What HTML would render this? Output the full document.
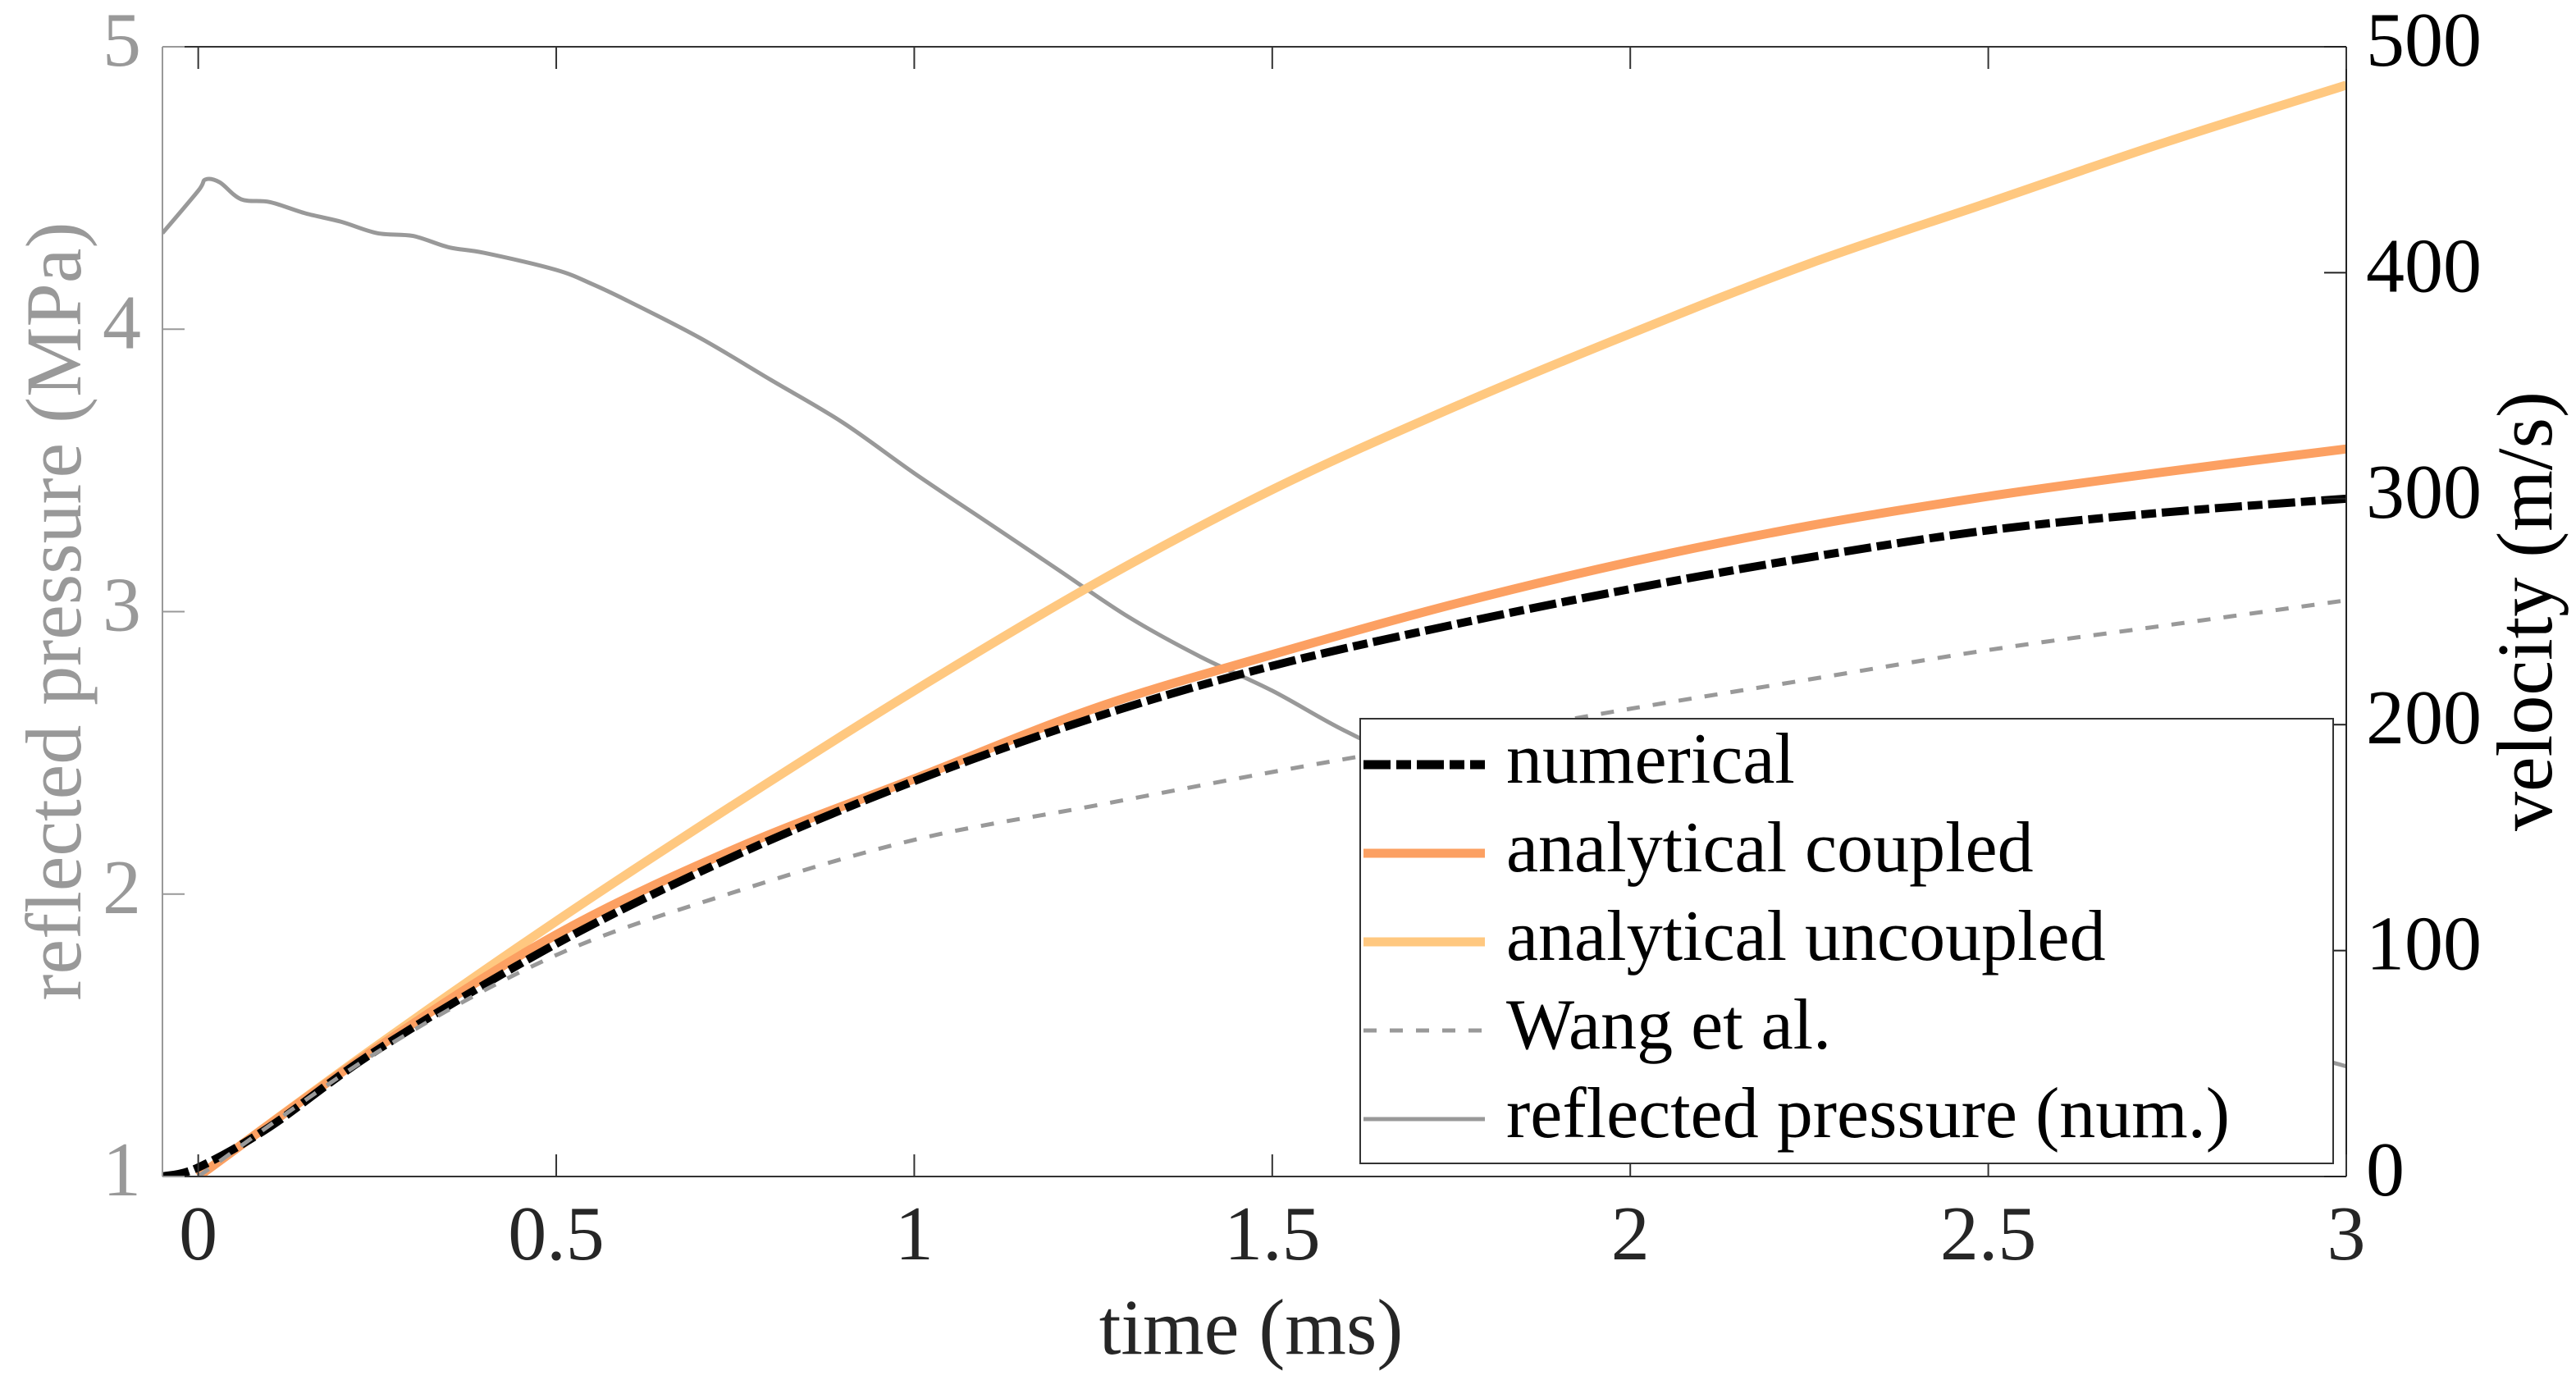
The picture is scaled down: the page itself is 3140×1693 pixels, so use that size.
<!DOCTYPE html>
<html><head><meta charset="utf-8"><style>
html,body{margin:0;padding:0;background:#fff;}
svg{display:block;}
text{font-family:"Liberation Serif","DejaVu Serif","Times New Roman",serif;}
</style></head><body>
<svg id="chart" width="3140" height="1693" viewBox="0 0 3140 1693">
<g id="plot"></g>
</svg>
<script>
const timeTicks=[0,0.5,1,1.5,2,2.5,3];
const timeTickLabels=["0","0.5","1","1.5","2","2.5","3"];
const pressureTicks=[1,2,3,4,5];
const velocityTicks=[0,100,200,300,400,500];
const tNum=[-0.05,0,0.1,0.25,0.5,0.75,1,1.25,1.5,1.75,2,2.25,2.5,2.75,3];
const vNum=[0,4,22,56,103,142,175,203,226,244,260,274,286,294,300];
const tAn=[0,0.25,0.5,0.75,1,1.25,1.5,1.75,2,2.25,2.5,2.75,3];
const vCoupled=[0,57,107,145,176,207,231,253,272,288,301,312,322];
const vUncoupled=[0,58,113,165,215,262,304,340,373,404,431,458,483];
const vWang=[0,55,98,126,149,164,179,193,207,220,233,244,255];
const tP=[-0.05,0,0.01,0.03,0.06,0.1,0.15,0.2,0.25,0.3,0.35,0.4,0.5,0.55,0.6,0.7,0.8,0.9,1.0,1.1,1.2,1.3,1.4,1.5,1.6,1.7,2.0,2.5,3.0];
const pNum=[4.34,4.49,4.53,4.52,4.46,4.45,4.41,4.38,4.34,4.33,4.29,4.27,4.21,4.16,4.10,3.97,3.82,3.67,3.49,3.32,3.15,2.98,2.84,2.72,2.58,2.47,2.2,1.75,1.39];

const L=198,R=2860,T=57,B=1434,XMIN=-0.05,XMAX=3;
const xS=t=>L+(t-XMIN)/(XMAX-XMIN)*(R-L);
const yP=p=>B-(p-1)/4*(B-T);
const yV=v=>B-v/500*(B-T);
const NS="http://www.w3.org/2000/svg";
const FONT='Liberation Serif, DejaVu Serif, serif';
const g=document.getElementById('plot');
function mk(tag,attrs,parent){const e=document.createElementNS(NS,tag);for(const k in attrs)e.setAttribute(k,attrs[k]);if(tag==='text')e.setAttribute('font-family',FONT);(parent||g).appendChild(e);return e;}
function smooth(xs,ys){let pts=xs.map((x,i)=>[x,ys[i]]);let d="M"+pts[0][0].toFixed(1)+","+pts[0][1].toFixed(1);
for(let i=0;i<pts.length-1;i++){const p0=pts[Math.max(0,i-1)],p1=pts[i],p2=pts[i+1],p3=pts[Math.min(pts.length-1,i+2)];
const c1=[p1[0]+(p2[0]-p0[0])/6,p1[1]+(p2[1]-p0[1])/6],c2=[p2[0]-(p3[0]-p1[0])/6,p2[1]-(p3[1]-p1[1])/6];
d+=" C"+c1.map(v=>v.toFixed(1))+" "+c2.map(v=>v.toFixed(1))+" "+p2[0].toFixed(1)+","+p2[1].toFixed(1);}return d;}

const clip=mk('clipPath',{id:'pc'});mk('rect',{x:L,y:T,width:R-L,height:B-T},clip);

let e;
e=mk('path',{d:smooth(tP.map(xS),pNum.map(yP)),fill:'none',stroke:'#999','stroke-width':5,'clip-path':'url(#pc)'});

e=mk('path',{d:smooth(tAn.map(xS),vUncoupled.map(yV)),fill:'none',stroke:'#FFC880','stroke-width':11,'clip-path':'url(#pc)'});

e=mk('path',{d:smooth(tAn.map(xS),vCoupled.map(yV)),fill:'none',stroke:'#FCA062','stroke-width':11,'clip-path':'url(#pc)'});

e=mk('path',{d:smooth(tNum.map(xS),vNum.map(yV)),fill:'none',stroke:'#000','stroke-width':10,'stroke-dasharray':'33 7 18 7','clip-path':'url(#pc)'});

e=mk('path',{d:smooth(tAn.map(xS),vWang.map(yV)),fill:'none',stroke:'#999','stroke-width':5,'stroke-dasharray':'16 16','clip-path':'url(#pc)'});


e=mk('line',{x1:L,y1:T,x2:L,y2:B,stroke:'#999','stroke-width':2});

e=mk('line',{x1:R,y1:T,x2:R,y2:B,stroke:'#222','stroke-width':2});

e=mk('line',{x1:L,y1:B,x2:R,y2:B,stroke:'#333','stroke-width':2});

e=mk('line',{x1:L,y1:T,x2:R,y2:T,stroke:'#333','stroke-width':2});


timeTicks.forEach((t,i)=>{const x=xS(t);
mk('line',{x1:x,y1:B,x2:x,y2:B-27,stroke:'#333','stroke-width':2});
mk('line',{x1:x,y1:T,x2:x,y2:T+27,stroke:'#333','stroke-width':2});
e=mk('text',{x:x,y:1535,'text-anchor':'middle','font-size':94,fill:'#262626'});e.textContent=timeTickLabels[i];
});
pressureTicks.forEach(p=>{const y=yP(p);
mk('line',{x1:L,y1:y,x2:L+27,y2:y,stroke:'#999','stroke-width':2});
e=mk('text',{x:172,y:y+23,'text-anchor':'end','font-size':94,fill:'#999'});e.textContent=String(p);
});
velocityTicks.forEach(v=>{const y=yV(v);
mk('line',{x1:R,y1:y,x2:R-27,y2:y,stroke:'#222','stroke-width':2});
e=mk('text',{x:2884,y:y+23,'font-size':94,fill:'#000'});e.textContent=String(v);
});

e=mk('text',{x:1525,y:1650,'text-anchor':'middle','font-size':96,fill:'#262626'});e.textContent='time (ms)';

e=mk('text',{x:0,y:0,'text-anchor':'middle','font-size':96,fill:'#999',transform:'translate(98,745) rotate(-90)'});e.textContent='reflected pressure (MPa)';

e=mk('text',{x:0,y:0,'text-anchor':'middle','font-size':96,fill:'#000',transform:'translate(3110,745) rotate(-90)'});e.textContent='velocity (m/s)';


const lg=mk('g',{});

mk('rect',{x:1658,y:876,width:1186,height:542,fill:'#fff',stroke:'#333','stroke-width':2},lg);
const legLabels=['numerical','analytical coupled','analytical uncoupled','Wang et al.','reflected pressure (num.)'];
const legStyles=[['#000',11,'33 7 18 7'],['#FCA062',11,''],['#FFC880',11,''],['#999',5,'16 16'],['#999',5,'']];
legLabels.forEach((lab,i)=>{const y=932+i*108;
const ent=mk('g',{},lg);

const ln=mk('line',{x1:1662,y1:y,x2:1810,y2:y,stroke:legStyles[i][0],'stroke-width':legStyles[i][1]},ent);
if(legStyles[i][2])ln.setAttribute('stroke-dasharray',legStyles[i][2]);
const tx=mk('text',{x:1836,y:y+22,'font-size':88,fill:'#000'},ent);tx.textContent=lab;});
</script>
</body></html>
